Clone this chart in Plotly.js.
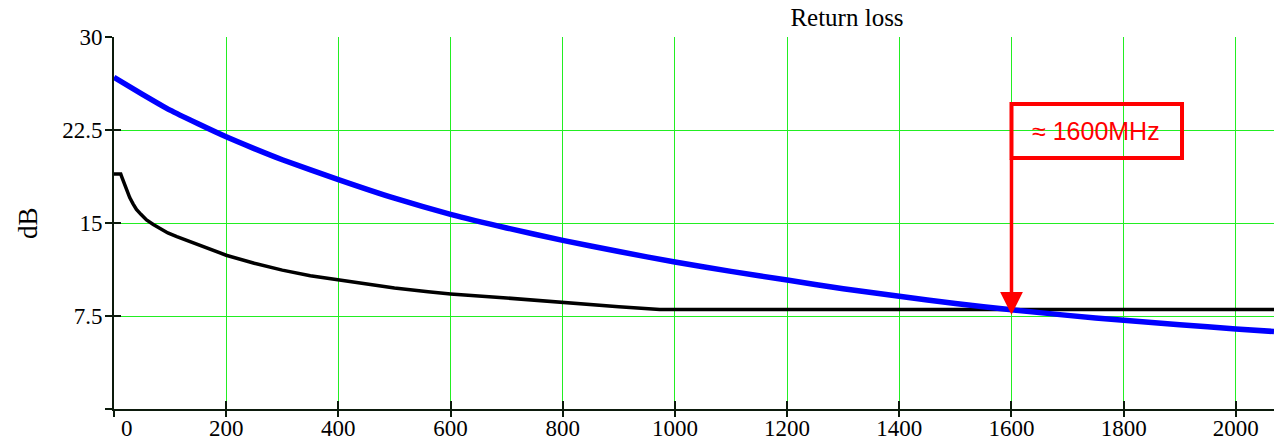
<!DOCTYPE html>
<html>
<head>
<meta charset="utf-8">
<script src="https://cdn.plot.ly/plotly-3.0.1.min.js"></script>
<style>html,body{margin:0;padding:0;background:#fff;}#chart{width:1274px;height:440px;}</style>
</head>
<body>
<div id="chart"></div>
<script>
// Frequency (MHz) and return loss (dB)
const blueFreq = [0, 50, 100, 150, 200, 250, 300, 400, 500, 600, 700, 800, 900, 1000, 1100, 1200, 1300, 1400, 1500, 1600, 1700, 1800, 1900, 2000, 2068];
const blueRL   = [26.75, 25.4, 24.1, 23.0, 21.95, 21.0, 20.1, 18.5, 17.0, 15.7, 14.6, 13.6, 12.7, 11.85, 11.1, 10.4, 9.7, 9.1, 8.5, 8.0, 7.55, 7.15, 6.8, 6.45, 6.25];

const blackFreq = [0, 12, 14, 17, 20, 24, 28, 34, 40, 48, 58, 70, 82, 96, 112, 141, 171, 200, 250, 300, 350, 400, 450, 500, 560, 600, 700, 800, 900, 973, 1600, 2068];
const blackRL   = [18.95, 18.95, 18.7, 18.3, 17.95, 17.5, 17.05, 16.55, 16.1, 15.7, 15.25, 14.88, 14.55, 14.2, 13.9, 13.4, 12.9, 12.4, 11.75, 11.2, 10.75, 10.4, 10.05, 9.75, 9.45, 9.28, 8.95, 8.57, 8.25, 8.02, 8.02, 8.02];

const xTickVals = [0, 200, 400, 600, 800, 1000, 1200, 1400, 1600, 1800, 2000];
const xTickText = ['', '200', '400', '600', '800', '1000', '1200', '1400', '1600', '1800', '2000'];
const yTickVals = [0, 7.5, 15, 22.5, 30];
const yTickText = ['', '7.5', '15', '22.5', '30'];

const chartTitle = 'Return loss';
const yTitle = 'dB';
const markerText = '≈ 1600MHz';
const crossFreq = 1600;
const crossRL = 8.0;

const serif = 'Liberation Serif, Times New Roman, serif';
const gridCol = '#22ee22';
const axCol = '#0c1a0c';

const traces = [
  {x: blackFreq, y: blackRL, type: 'scatter', mode: 'lines', line: {color: '#000000', width: 3.5}, hoverinfo: 'skip'},
  {x: blueFreq, y: blueRL, type: 'scatter', mode: 'lines', line: {color: '#0000ff', width: 5.5, shape: 'spline', smoothing: 0.5}, hoverinfo: 'skip'}
];

const layout = {
  width: 1274, height: 440,
  margin: {l: 114, r: 0, t: 37, b: 31, pad: 0},
  paper_bgcolor: '#ffffff', plot_bgcolor: '#ffffff',
  showlegend: false,
  title: {text: chartTitle, font: {family: serif, size: 25, color: '#000'}, xref: 'paper', x: (847 - 114) / 1160, xanchor: 'center', yref: 'container', y: 1 - 17 / 440, yanchor: 'middle'},
  xaxis: {
    range: [0, 2068], tickmode: 'array', tickvals: xTickVals, ticktext: xTickText,
    showgrid: true, gridcolor: gridCol, gridwidth: 1, zeroline: false,
    showline: true, linecolor: axCol, linewidth: 2,
    ticks: 'outside', ticklen: 6, tickwidth: 2, tickcolor: axCol, ticklabelstandoff: -9,
    tickfont: {family: serif, size: 23, color: '#000'}, fixedrange: true
  },
  yaxis: {
    range: [0, 30], tickmode: 'array', tickvals: yTickVals, ticktext: yTickText,
    showgrid: true, gridcolor: gridCol, gridwidth: 1, zeroline: false,
    showline: true, linecolor: axCol, linewidth: 2,
    ticks: 'outside', ticklen: 7, tickwidth: 2, tickcolor: axCol, ticklabelstandoff: -2,
    tickfont: {family: serif, size: 23, color: '#000'}, fixedrange: true
  },
  xaxis2: {overlaying: 'x', range: [0, 2068], tickmode: 'array', tickvals: xTickVals, showticklabels: false, showgrid: false, zeroline: false, showline: false, ticks: 'inside', ticklen: 8, tickwidth: 2, tickcolor: axCol, anchor: 'y2'},
  yaxis2: {overlaying: 'y', range: [0, 30], tickmode: 'array', tickvals: yTickVals, showticklabels: false, showgrid: false, zeroline: false, showline: false, ticks: 'inside', ticklen: 7, tickwidth: 2, tickcolor: axCol, anchor: 'x2'},
  shapes: [
    {type: 'rect', xref: 'x', yref: 'y', x0: 1600, x1: 1904, y0: 20.24, y1: 24.6, line: {color: '#ff0000', width: 4}, fillcolor: 'rgba(0,0,0,0)'}
  ],
  annotations: [
    {x: crossFreq, y: crossRL - 0.4, xref: 'x', yref: 'y', ax: crossFreq, ay: 20.24, axref: 'x', ayref: 'y', showarrow: true, arrowhead: 2, arrowsize: 1.3, arrowwidth: 3.5, arrowcolor: '#ff0000', text: ''},
    {x: 1750, y: 22.42, xref: 'x', yref: 'y', text: markerText, showarrow: false, font: {family: 'Liberation Sans, Arial, sans-serif', size: 25, color: '#ff0000'}},
    {x: 0, y: 0, xref: 'x', yref: 'y', text: '0', showarrow: false, xanchor: 'center', yanchor: 'top', xshift: 13, yshift: -5, font: {family: serif, size: 23, color: '#000'}},
    {x: 0, y: 0.5, xref: 'paper', yref: 'paper', text: yTitle, showarrow: false, textangle: -90, xanchor: 'center', yanchor: 'middle', xshift: -86, font: {family: serif, size: 27, color: '#000'}}
  ]
};

traces.push({x: [0], y: [0], xaxis: 'x2', yaxis: 'y2', type: 'scatter', mode: 'markers', marker: {opacity: 0}, hoverinfo: 'skip'});

Plotly.newPlot('chart', traces, layout, {staticPlot: true, displayModeBar: false});
</script>
</body>
</html>
